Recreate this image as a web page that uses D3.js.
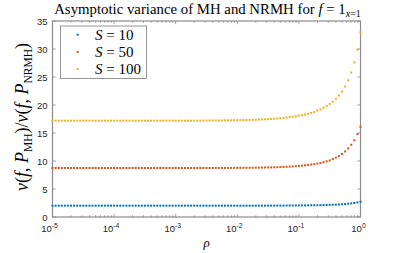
<!DOCTYPE html>
<html>
<head>
<meta charset="utf-8">
<script src="https://cdn.jsdelivr.net/npm/d3@7"></script>
<style>
  body { margin: 0; background: #fff; }
  svg { display: block; }
  .tick text { font-family: "Liberation Sans", Arial, sans-serif; font-size: 9.5px; fill: #262626; }
</style>
</head>
<body>
<svg id="chart" width="398" height="253"></svg>
<script>
const width = 398
const height = 253
const margin = { top: 21, right: 37.5, bottom: 36, left: 52.5 }

// sampling grid: log10(rho) from -5 to 0, 101 points
const rhoExp = d3.range(101).map(i => -5 + i * 0.05)

const seriesNames = ['S = 10', 'S = 50', 'S = 100']
const seriesColors = ['#0072BD', '#D95319', '#EDB120']

const yTicks = [0, 5, 10, 15, 20, 25, 30, 35]
const xTickExps = [-5, -4, -3, -2, -1, 0]

const vS10 = [
  2.02, 2.02, 2.02, 2.02, 2.02, 2.02, 2.02, 2.02, 2.02, 2.02,
  2.02, 2.02, 2.02, 2.02, 2.02, 2.02, 2.02, 2.02, 2.02, 2.02,
  2.02, 2.02, 2.02, 2.02, 2.02, 2.02, 2.02, 2.02, 2.02, 2.02,
  2.02, 2.02, 2.02, 2.02, 2.02, 2.02, 2.02, 2.02, 2.02, 2.02,
  2.02, 2.02, 2.02, 2.02, 2.02, 2.02, 2.02, 2.02, 2.02, 2.02,
  2.02, 2.02, 2.02, 2.02, 2.02, 2.02, 2.02, 2.02, 2.02, 2.02,
  2.02, 2.02, 2.02, 2.02, 2.02, 2.02, 2.02, 2.02, 2.02, 2.02,
  2.03, 2.03, 2.03, 2.04, 2.04, 2.04, 2.05, 2.05, 2.05, 2.06,
  2.06, 2.07, 2.07, 2.08, 2.09, 2.10, 2.11, 2.12, 2.13, 2.15,
  2.17, 2.19, 2.21, 2.24, 2.28, 2.32, 2.37, 2.43, 2.50, 2.60,
  2.73
]

const vS50 = [
  8.75, 8.75, 8.75, 8.75, 8.75, 8.75, 8.75, 8.75, 8.75, 8.75,
  8.75, 8.75, 8.75, 8.75, 8.75, 8.75, 8.75, 8.75, 8.75, 8.75,
  8.75, 8.75, 8.75, 8.75, 8.75, 8.75, 8.75, 8.75, 8.75, 8.75,
  8.75, 8.75, 8.75, 8.75, 8.75, 8.75, 8.75, 8.75, 8.75, 8.75,
  8.75, 8.75, 8.75, 8.75, 8.75, 8.75, 8.75, 8.75, 8.75, 8.75,
  8.75, 8.75, 8.75, 8.76, 8.76, 8.76, 8.76, 8.77, 8.77, 8.77,
  8.78, 8.78, 8.79, 8.79, 8.80, 8.80, 8.81, 8.82, 8.83, 8.84,
  8.85, 8.86, 8.88, 8.90, 8.92, 8.94, 8.97, 9.00, 9.03, 9.07,
  9.12, 9.17, 9.23, 9.30, 9.37, 9.45, 9.55, 9.65, 9.80, 9.95,
  10.1, 10.35, 10.6, 10.9, 11.25, 11.7, 12.25, 12.9, 13.7, 14.8,
  16.1
]

const vS100 = [
  17.2, 17.2, 17.2, 17.2, 17.2, 17.2, 17.2, 17.2, 17.2, 17.2,
  17.2, 17.2, 17.2, 17.2, 17.2, 17.2, 17.2, 17.2, 17.2, 17.2,
  17.2, 17.2, 17.2, 17.2, 17.2, 17.2, 17.2, 17.2, 17.2, 17.2,
  17.2, 17.2, 17.2, 17.2, 17.2, 17.2, 17.2, 17.2, 17.2, 17.2,
  17.2, 17.2, 17.2, 17.2, 17.2, 17.2, 17.2, 17.2, 17.2, 17.2,
  17.23, 17.23, 17.23, 17.24, 17.24, 17.25, 17.26, 17.26, 17.27, 17.28,
  17.29, 17.30, 17.31, 17.33, 17.34, 17.36, 17.38, 17.40, 17.43, 17.45,
  17.48, 17.52, 17.56, 17.60, 17.65, 17.70, 17.77, 17.84, 17.91, 18.0,
  18.1, 18.2, 18.3, 18.45, 18.6, 18.75, 19.0, 19.2, 19.5, 19.8,
  20.2, 20.6, 21.1, 21.7, 22.4, 23.3, 24.4, 25.8, 27.6, 29.9,
  33.0
]

const seriesValues = [vS10, vS50, vS100]

const svg = d3.select('svg#chart')

const x = d3.scaleLog()
  .domain([1e-5, 1])
  .range([margin.left, width - margin.right])

const y = d3.scaleLinear()
  .domain([0, 35])
  .range([height - margin.bottom, margin.top])

const axisColor = '#8a8a8a'
const x0 = margin.left, x1 = width - margin.right
const y0 = height - margin.bottom, y1 = margin.top

// minor + major log ticks, inside, on bottom and top
const minorTicks = []
for (let e = -5; e < 0; e++) {
  for (let k = 2; k <= 9; k++) minorTicks.push(k * Math.pow(10, e))
}

const ticks = svg.append('g').attr('stroke', axisColor).attr('stroke-width', 0.8)
minorTicks.forEach(v => {
  ticks.append('line').attr('x1', x(v)).attr('x2', x(v)).attr('y1', y0).attr('y2', y0 - 1.8)
  ticks.append('line').attr('x1', x(v)).attr('x2', x(v)).attr('y1', y1).attr('y2', y1 + 1.8)
})
xTickExps.forEach(e => {
  const v = Math.pow(10, e)
  ticks.append('line').attr('x1', x(v)).attr('x2', x(v)).attr('y1', y0).attr('y2', y0 - 3.2)
  ticks.append('line').attr('x1', x(v)).attr('x2', x(v)).attr('y1', y1).attr('y2', y1 + 3.2)
})
yTicks.forEach(v => {
  ticks.append('line').attr('x1', x0).attr('x2', x0 + 3.2).attr('y1', y(v)).attr('y2', y(v))
  ticks.append('line').attr('x1', x1).attr('x2', x1 - 3.2).attr('y1', y(v)).attr('y2', y(v))
})

// box
svg.append('rect')
  .attr('x', x0).attr('y', y1)
  .attr('width', x1 - x0).attr('height', y0 - y1)
  .attr('fill', 'none')
  .attr('stroke', axisColor)
  .attr('stroke-width', 1.2)

// y tick labels
const yAxis = svg.append('g')
  .attr('transform', `translate(${x0},0)`)
  .call(d3.axisLeft(y).tickValues(yTicks).tickSize(0).tickPadding(5))
yAxis.select('.domain').remove()

// x tick labels with superscripts
const xLab = svg.append('g')
  .attr('font-family', '"Liberation Sans", Arial, sans-serif')
  .attr('fill', '#262626')
xTickExps.forEach(e => {
  const t = xLab.append('text')
    .attr('x', x(Math.pow(10, e)) - (e < 0 ? 3 : 2))
    .attr('y', y0 + 15)
    .attr('text-anchor', 'middle')
    .attr('font-size', 9.5)
  t.append('tspan').text('10')
  t.append('tspan').attr('font-size', 6.8).attr('dy', -4.5).text(String(e))
})

// points
seriesValues.forEach((vals, s) => {
  svg.append('g')
    .attr('fill', seriesColors[s])
    .selectAll('rect')
    .data(vals)
    .join('rect')
    .attr('x', (d, i) => x(Math.pow(10, rhoExp[i])) - 1)
    .attr('y', d => y(d) - 1)
    .attr('width', 2)
    .attr('height', 2)
})

// legend
const lg = svg.append('g')
lg.append('rect')
  .attr('x', 60.5).attr('y', 26)
  .attr('width', 86).attr('height', 52.5)
  .attr('fill', '#fff')
  .attr('stroke', axisColor)
  .attr('stroke-width', 0.9)
seriesNames.forEach((name, s) => {
  const ly = 34.7 + s * 17.2
  lg.append('rect')
    .attr('x', 76.7).attr('y', ly - 1)
    .attr('width', 2).attr('height', 2)
    .attr('fill', seriesColors[s])
  const t = lg.append('text')
    .attr('x', 95)
    .attr('y', ly + 5)
    .attr('font-family', '"Liberation Serif", serif')
    .attr('font-size', 15)
    .attr('fill', '#000')
  const parts = name.split(' = ')
  t.append('tspan').attr('font-style', 'italic').text(parts[0])
  t.append('tspan').text(' = ' + parts[1])
})

// title
const title = svg.append('text')
  .attr('x', (x0 + x1) / 2 + 1)
  .attr('y', 14)
  .attr('text-anchor', 'middle')
  .attr('font-family', '"Liberation Serif", serif')
  .attr('font-size', 14.8)
  .attr('fill', '#000')
title.append('tspan').text('Asymptotic variance of MH and NRMH for ')
title.append('tspan').attr('font-style', 'italic').text('f')
title.append('tspan').text(' = 1')
title.append('tspan').attr('font-size', 10).attr('dy', 3).attr('font-style', 'italic').text('x')
title.append('tspan').attr('font-size', 10).text('=1')

// x label
svg.append('text')
  .attr('x', (x0 + x1) / 2)
  .attr('y', 247)
  .attr('text-anchor', 'middle')
  .attr('font-family', '"Liberation Serif", serif')
  .attr('font-style', 'italic')
  .attr('font-size', 13)
  .text('ρ')

// y label
const yl = svg.append('text')
  .attr('transform', `translate(28,117) rotate(-90)`)
  .attr('text-anchor', 'middle')
  .attr('font-family', '"Liberation Serif", serif')
  .attr('font-size', 18)
  .attr('fill', '#000')
const it = s => yl.append('tspan').attr('font-style', 'italic').text(s)
const rm = s => yl.append('tspan').text(s)
const sub = s => yl.append('tspan').attr('font-size', 11.5).attr('dy', 3.5).text(s)
const up = s => yl.append('tspan').attr('dy', -3.5).text(s)
it('v'); rm('('); it('f'); rm(', '); it('P'); sub('MH'); up(')/')
it('v'); rm('('); it('f'); rm(', '); it('P'); sub('NRMH'); up(')')
</script>
</body>
</html>
